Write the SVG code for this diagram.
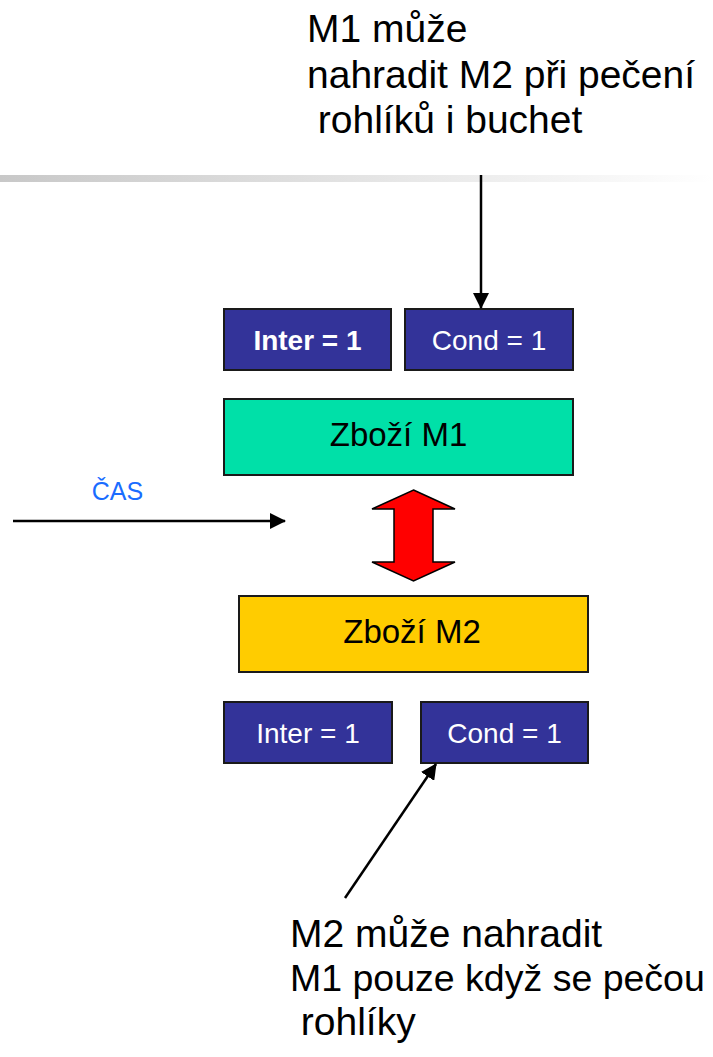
<svg xmlns="http://www.w3.org/2000/svg" width="713" height="1057" viewBox="0 0 713 1057">
<defs>
<linearGradient id="bar" x1="0" y1="0" x2="1" y2="0">
<stop offset="0" stop-color="#c8c8c8"/>
<stop offset="1" stop-color="#ffffff"/>
</linearGradient>
<marker id="ah" markerWidth="16" markerHeight="16" viewBox="0 0 16 16" refX="15" refY="8" orient="auto" markerUnits="userSpaceOnUse">
<path d="M0,0 L16,8 L0,16 Z" fill="#000"/>
</marker>
<style>
.box{stroke:#1a1a1a;stroke-width:2}
.navy{fill:#333399}
.t{font-family:"Liberation Sans",Arial,sans-serif;text-anchor:middle}
.w{fill:#ffffff;font-size:28px}
.b{fill:#000;font-size:33px}
.note{font-family:"Liberation Sans",Arial,sans-serif;font-size:39px;fill:#000}
.conn{stroke:#000;stroke-width:2.5;fill:none}
</style>
</defs>
<rect width="713" height="1057" fill="#fff"/>
<rect x="0" y="175" width="713" height="7" fill="url(#bar)"/>

<g id="note-top">
<text class="note" x="307" y="42">M1 může</text>
<text class="note" x="307" y="88">nahradit M2 při pečení</text>
<text class="note" x="307" y="133" xml:space="preserve"> rohlíků i buchet</text>
</g>

<g id="inter-m1"><rect class="box navy" x="224" y="309" width="167" height="61"/><text class="t w" x="307.5" y="350" font-weight="bold">Inter = 1</text></g>
<g id="cond-m1"><rect class="box navy" x="405" y="309" width="168" height="61"/><text class="t w" x="489" y="350">Cond = 1</text></g>
<g id="zbozi-m1"><rect class="box" fill="#00e0a8" x="224" y="399" width="349" height="76"/><text class="t b" x="398.5" y="446">Zboží M1</text></g>

<g id="cas"><text x="117.5" y="500" font-family="&quot;Liberation Sans&quot;,Arial,sans-serif" font-size="25" fill="#1a6cff" text-anchor="middle">ČAS</text></g>

<g id="swap"><path d="M413.5,490 L455,509 L433,509 L433,562 L455,562 L413.5,581 L372,562 L394,562 L394,509 L372,509 Z" fill="#ff0000" stroke="#000" stroke-width="1.5"/></g>

<g id="zbozi-m2"><rect class="box" fill="#ffcc00" x="239" y="596" width="349" height="76"/><text class="t b" x="412" y="643">Zboží M2</text></g>
<g id="inter-m2"><rect class="box navy" x="224" y="702" width="168" height="61"/><text class="t w" x="308" y="743">Inter = 1</text></g>
<g id="cond-m2"><rect class="box navy" x="421" y="702" width="167" height="61"/><text class="t w" x="504.5" y="743">Cond = 1</text></g>

<g id="note-bottom">
<text class="note" x="290" y="947">M2 může nahradit</text>
<text class="note" x="290" y="991" style="font-size:37.5px">M1 pouze když se pečou</text>
<text class="note" x="290" y="1035" xml:space="preserve"> rohlíky</text>
</g>

<g id="connectors">
<line class="conn" x1="481" y1="175" x2="481" y2="308" marker-end="url(#ah)"/>
<line class="conn" x1="13" y1="521" x2="285" y2="521" marker-end="url(#ah)"/>
<line class="conn" x1="345" y1="898" x2="436" y2="764" marker-end="url(#ah)"/>
</g>
</svg>
